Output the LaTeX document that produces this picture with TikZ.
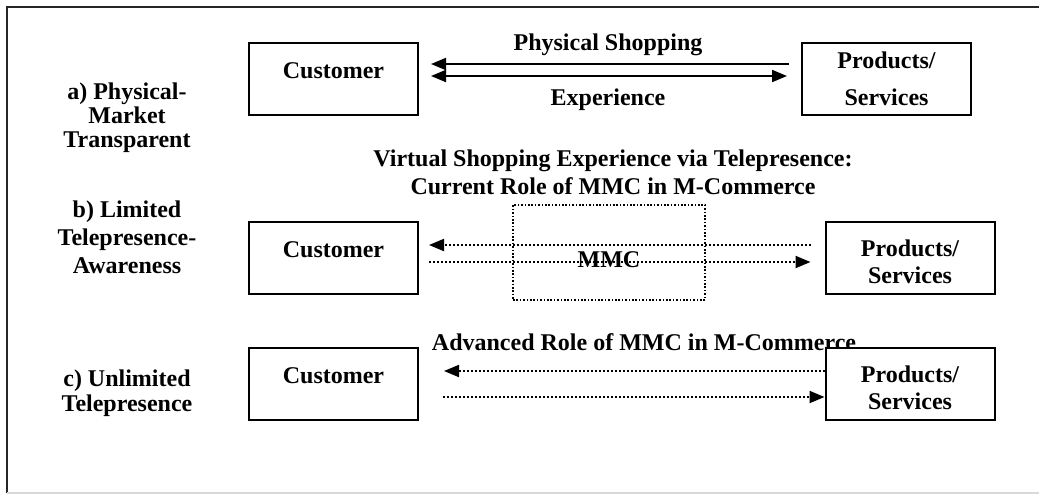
\documentclass[tikz,border=0pt]{standalone}
\usepackage{fontspec}
\setmainfont{Liberation Serif}
\usetikzlibrary{arrows.meta}
\begin{document}
\begin{tikzpicture}[x=0.5pt,y=-0.5pt,
  >={Triangle[length=7.5pt,width=6pt]},
  txt/.style={font=\bfseries\fontsize{12}{14}\selectfont, inner sep=0pt, align=center, anchor=base},
  box/.style={draw, fill=white, line width=1pt, inner sep=0pt, minimum width=84.5pt, minimum height=36pt},
  mmcbox/.style={draw, line width=0.8pt, dash pattern=on 0.8pt off 0.9pt, inner sep=0pt, minimum width=96pt, minimum height=47.5pt},
  sline/.style={line width=1pt},
  dline/.style={line width=1pt, dash pattern=on 1pt off 1pt}
]
\useasboundingbox (0,0) rectangle (1039,494);
% frame
\coordinate (f1) at (7,493);
\coordinate (f2) at (7,7);
\coordinate (f3) at (1039,7);
\coordinate (f4) at (1039,493);
\draw[line width=1pt, black!85] (f1) -- (f2) -- (f3);
\draw[line width=0.8pt, black!15] (f1) -- (f4);

% row labels (anchor = baseline of last line)
\node[txt, font=\bfseries\fontsize{12}{12}\selectfont] (la) at (127,147) {a) Physical-\\Market\\Transparent};
\node[txt, font=\bfseries\fontsize{12}{14}\selectfont] (lb) at (127,273) {b) Limited\\Telepresence-\\Awareness};
\node[txt, font=\bfseries\fontsize{12}{12.5}\selectfont] (lc) at (127,411) {c) Unlimited\\Telepresence};

% captions
\node[txt] (tps) at (608,50) {Physical Shopping};
\node[txt] (tex) at (608,105) {Experience};
\node[txt] (tvir) at (613,194) {Virtual Shopping Experience via Telepresence:\\Current Role of MMC in M-Commerce};
\node[txt] (tadv) at (644,350) {Advanced Role of MMC in M-Commerce};
\node[txt] (tmmc) at (609,267) {MMC};

% boxes
\node[box] (ca) at (333.5,79) {};
\node[box] (pa) at (886.5,79) {};
\node[box] (cb) at (333.5,257.5) {};
\node[box] (pb) at (910,257.5) {};
\node[box] (cc) at (333.5,384) {};
\node[box] (pc) at (910,384) {};
\node[mmcbox] (mmc) at (609,252.5) {};

% box texts
\node[txt] (cat) at (333.5,78) {Customer};
\node[txt] (cbt) at (333.5,257) {Customer};
\node[txt] (cct) at (333.5,383) {Customer};
\node[txt, font=\bfseries\fontsize{12}{18.5}\selectfont] (pat) at (886.5,105) {Products/\\Services};
\node[txt, font=\bfseries\fontsize{12}{13.5}\selectfont] (pbt) at (910,283) {Products/\\Services};
\node[txt, font=\bfseries\fontsize{12}{13.5}\selectfont] (pct) at (910,409) {Products/\\Services};

% row a connectors
\draw[sline, ->, shorten <=6pt, shorten >=6pt] (pa.west |- 0,64) -- (ca.east |- 0,64);
\draw[sline, <->, shorten <=6pt, shorten >=7pt] (ca.east |- 0,76) -- (pa.west |- 0,76);
% row b connectors
\draw[dline, ->, shorten <=7pt, shorten >=5pt] (pb.west |- 0,245) -- (cb.east |- 0,245);
\draw[dline, ->, shorten <=5pt, shorten >=7pt] (cb.east |- 0,262) -- (pb.west |- 0,262);
% row c connectors
\draw[dline, ->, shorten >=12.5pt] (pc.west |- 0,371) -- (cc.east |- 0,371);
\draw[dline, ->, shorten <=12pt] (cc.east |- 0,397) -- (pc.west |- 0,397);
\end{tikzpicture}
\end{document}
